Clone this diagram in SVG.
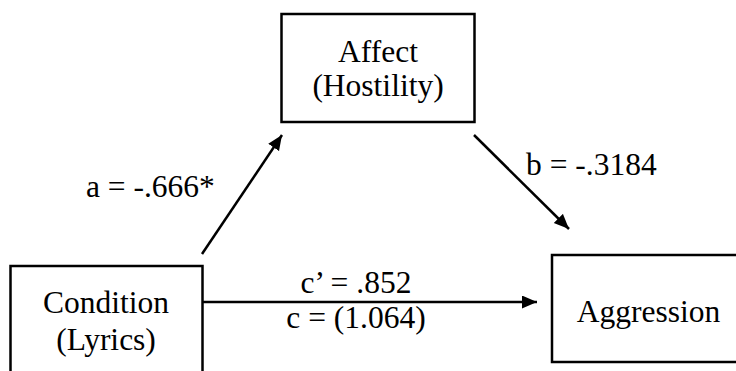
<svg xmlns="http://www.w3.org/2000/svg" width="736" height="371" viewBox="0 0 736 371">
<style>
.box{fill:#fff;stroke:#000;stroke-width:2.5}
.t{font-family:"Liberation Serif","Times New Roman",serif;font-size:31.5px;fill:#000}
.m{text-anchor:middle}
.c{stroke:#000;stroke-width:2.5;fill:none}
</style>
<defs>
<marker id="ah" markerUnits="userSpaceOnUse" markerWidth="16" markerHeight="14" refX="15" refY="6.5" orient="auto">
<path d="M0,0 L15,6.5 L0,13 z" fill="#000"/>
</marker>
</defs>
<rect width="736" height="371" fill="#fff"/>
<g id="affect">
<rect class="box" x="281.5" y="14" width="193" height="108"/>
<text class="t m" x="378" y="62">Affect</text>
<text class="t m" x="378" y="96">(Hostility)</text>
</g>
<g id="condition">
<rect class="box" x="10.5" y="266" width="192" height="120"/>
<text class="t m" x="106" y="313">Condition</text>
<text class="t m" x="106" y="350">(Lyrics)</text>
</g>
<g id="aggression">
<rect class="box" x="552" y="255" width="200" height="107"/>
<text class="t m" x="648.5" y="322">Aggression</text>
</g>
<g id="connectors">
<line class="c" x1="202" y1="254" x2="282" y2="135" marker-end="url(#ah)"/>
<line class="c" x1="474" y1="135" x2="569" y2="229" marker-end="url(#ah)"/>
<line class="c" x1="203" y1="302" x2="537" y2="302" marker-end="url(#ah)"/>
<text class="t" x="86" y="197">a = -.666*</text>
<text class="t" x="526" y="175">b = -.3184</text>
<text class="t m" x="356" y="293">c’ = .852</text>
<text class="t m" x="356" y="328">c = (1.064)</text>
</g>
</svg>
